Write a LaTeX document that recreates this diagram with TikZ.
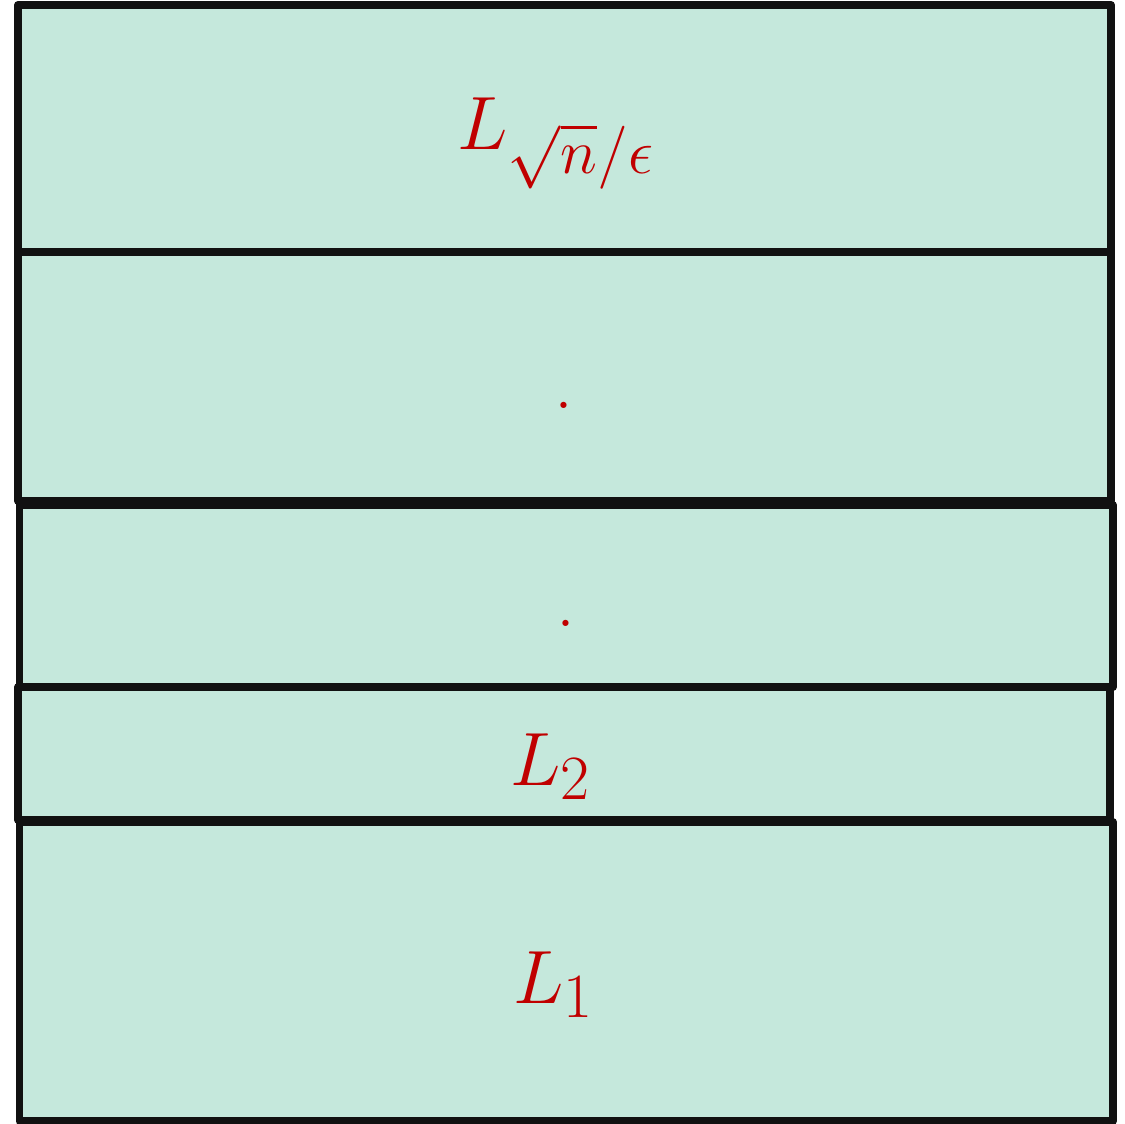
\documentclass[tikz,border=0pt]{standalone}
\usetikzlibrary{positioning}
\definecolor{boxfill}{RGB}{197,232,220}
\definecolor{labred}{RGB}{192,0,0}
\definecolor{edge}{RGB}{17,17,17}
\begin{document}
\begin{tikzpicture}[x=0.02cm,y=-0.02cm,
  layer/.style={draw=edge,fill=boxfill,line width=0.16cm,line join=round},
  lab/.style={text=labred,inner sep=0pt,anchor=base west,font=\Huge,scale=1.73},
  dotlab/.style={text=labred,inner sep=0pt,anchor=base,font=\Huge,scale=1.73}]
\useasboundingbox (0,0) rectangle (1125,1124);
\draw[layer] (18,5) rectangle (1111,252);
\draw[layer] (18,252) rectangle (1111,501);
\draw[layer] (19.5,505) rectangle (1113,687);
\draw[layer] (18,687) rectangle (1110,820);
\draw[layer] (19.5,822) rectangle (1113,1121);
\node[lab] (top) at (457,150) {$L_{\sqrt{n}/\epsilon}$};
\node[dotlab] (d1) at (564,409) {.};
\node[dotlab] (d2) at (566,626) {.};
\node[lab] (l2) at (510,785) {$L_2$};
\node[lab] (l1) at (513,1003) {$L_1$};
\end{tikzpicture}
\end{document}
